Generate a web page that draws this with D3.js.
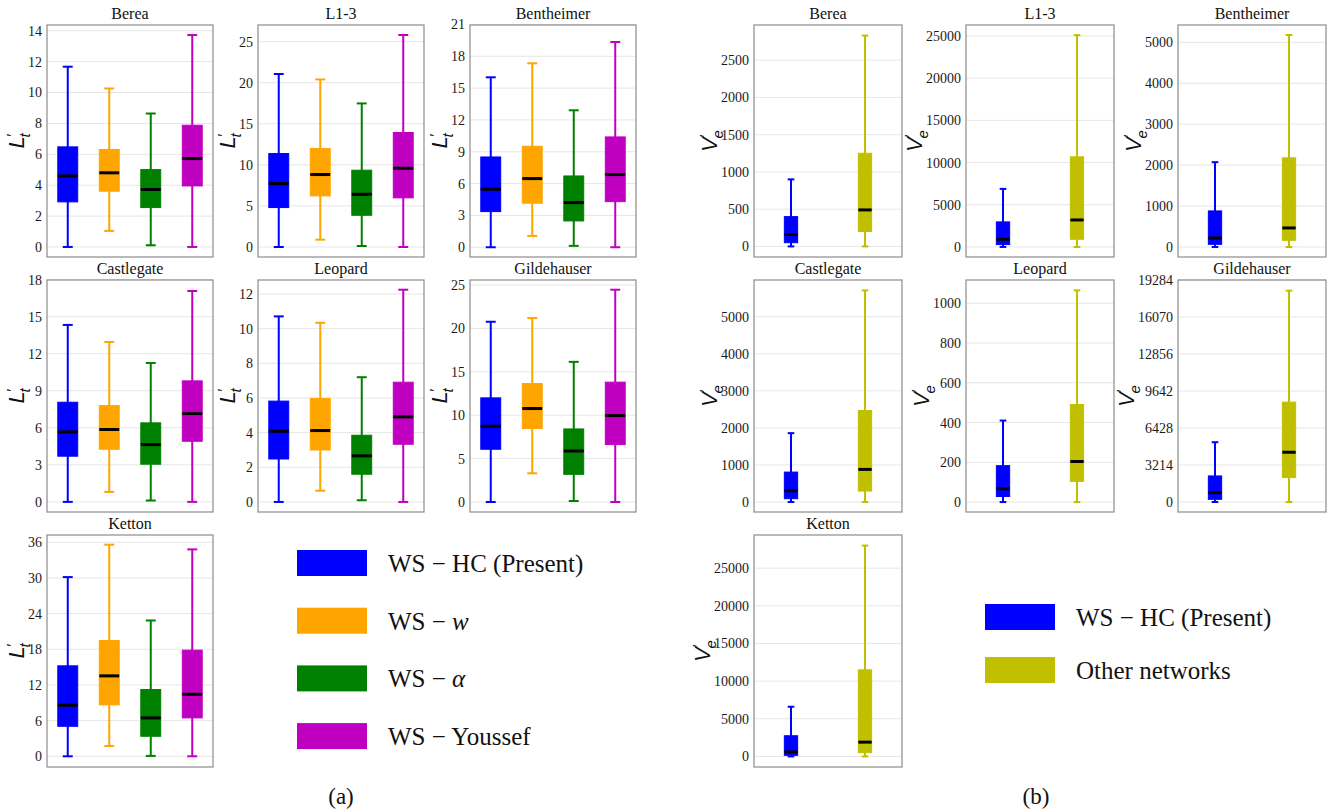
<!DOCTYPE html>
<html><head><meta charset="utf-8">
<script src="https://cdn.jsdelivr.net/npm/d3@7"></script>
<style>body{margin:0;background:#fff;} svg{display:block}</style>
</head><body><svg id="c" width="1330" height="810"></svg>
<script>
// ---------- DATA ----------
// box stats per series: [lowWhisker, Q1, median, Q3, highWhisker]
const seriesA = ["WS − HC (Present)", "WS − w", "WS − α", "WS − Youssef"];
const seriesB = ["WS − HC (Present)", "Other networks"];
const colorsA = ["#0000ff", "#ffa500", "#008000", "#c000c0"];
const colorsB = ["#0000ff", "#c0c000"];

const samples = ["Berea", "L1-3", "Bentheimer", "Castlegate", "Leopard", "Gildehauser", "Ketton"];

// Panel (a): L't
const aBerea = [[0, 2.92, 4.60, 6.48, 11.67], [1.04, 3.61, 4.80, 6.31, 10.26], [0.11, 2.55, 3.72, 5.01, 8.64], [0, 3.95, 5.72, 7.88, 13.72]];
const aL13 = [[0, 4.80, 7.72, 11.38, 21.06], [0.89, 6.22, 8.82, 12.0, 20.4], [0.12, 3.86, 6.42, 9.35, 17.48], [0, 5.98, 9.59, 13.94, 25.81]];
const aBentheimer = [[0, 3.36, 5.47, 8.51, 16.02], [1.07, 4.15, 6.47, 9.52, 17.34], [0.13, 2.48, 4.21, 6.72, 12.91], [0, 4.30, 6.85, 10.40, 19.35]];
const aCastlegate = [[0, 3.70, 5.67, 8.07, 14.33], [0.81, 4.26, 5.86, 7.80, 12.95], [0.11, 3.05, 4.64, 6.40, 11.25], [0, 4.91, 7.15, 9.80, 17.08]];
const aLeopard = [[0, 2.48, 4.08, 5.82, 10.71], [0.65, 3.0, 4.12, 5.97, 10.34], [0.10, 1.60, 2.66, 3.85, 7.20], [0, 3.33, 4.91, 6.91, 12.25]];
const aGildehauser = [[0, 6.08, 8.73, 12.0, 20.77], [3.31, 8.46, 10.77, 13.65, 21.19], [0.12, 3.19, 5.88, 8.42, 16.15], [0, 6.62, 9.96, 13.81, 24.46]];
const aKetton = [[0, 5.05, 8.59, 15.22, 30.15], [1.74, 8.65, 13.53, 19.48, 35.6], [0.06, 3.37, 6.46, 11.23, 22.85], [0, 6.46, 10.44, 17.86, 34.81]];

const ticksA_Berea = [0, 2, 4, 6, 8, 10, 12, 14];
const ticksA_L13 = [0, 5, 10, 15, 20, 25];
const ticksA_Bentheimer = [0, 3, 6, 9, 12, 15, 18, 21];
const ticksA_Castlegate = [0, 3, 6, 9, 12, 15, 18];
const ticksA_Leopard = [0, 2, 4, 6, 8, 10, 12];
const ticksA_Gildehauser = [0, 5, 10, 15, 20, 25];
const ticksA_Ketton = [0, 6, 12, 18, 24, 30, 36];

const rangeA_Berea = [-0.65, 14.37];
const rangeA_L13 = [-1.22, 27.03];
const rangeA_Bentheimer = [-0.92, 20.95];
const rangeA_Castlegate = [-0.82, 17.97];
const rangeA_Leopard = [-0.58, 12.81];
const rangeA_Gildehauser = [-1.15, 25.58];
const rangeA_Ketton = [-1.80, 37.23];

// Panel (b): V'e
const bBerea = [[0, 50, 160, 400, 900], [0, 200, 490, 1250, 2830]];
const bL13 = [[0, 280, 910, 2970, 6880], [0, 910, 3200, 10680, 25100]];
const bBentheimer = [[0, 65, 220, 881, 2072], [0, 163, 465, 2178, 5180]];
const bCastlegate = [[0, 90, 305, 808, 1858], [0, 296, 880, 2469, 5709]];
const bLeopard = [[0, 28, 67, 183, 410], [0, 104, 204, 491, 1065]];
const bGildehauser = [[0, 232, 812, 2263, 5192], [0, 2118, 4322, 8673, 18362]];
const bKetton = [[0, 150, 600, 2750, 6600], [0, 500, 1900, 11500, 28000]];

const ticksB_Berea = [0, 500, 1000, 1500, 2000, 2500];
const ticksB_L13 = [0, 5000, 10000, 15000, 20000, 25000];
const ticksB_Bentheimer = [0, 1000, 2000, 3000, 4000, 5000];
const ticksB_Castlegate = [0, 1000, 2000, 3000, 4000, 5000];
const ticksB_Leopard = [0, 200, 400, 600, 800, 1000];
const ticksB_Gildehauser = [0, 3214, 6428, 9642, 12856, 16070, 19284];
const ticksB_Ketton = [0, 5000, 10000, 15000, 20000, 25000];

const rangeB_Berea = [-142, 2972];
const rangeB_L13 = [-1190, 26300];
const rangeB_Bentheimer = [-245, 5424];
const rangeB_Castlegate = [-269, 5990];
const rangeB_Leopard = [-50, 1117];
const rangeB_Gildehauser = [-870, 19284];
const rangeB_Ketton = [-1400, 29400];

const panelAStats = [aBerea, aL13, aBentheimer, aCastlegate, aLeopard, aGildehauser, aKetton];
const panelATicks = [ticksA_Berea, ticksA_L13, ticksA_Bentheimer, ticksA_Castlegate, ticksA_Leopard, ticksA_Gildehauser, ticksA_Ketton];
const panelARanges = [rangeA_Berea, rangeA_L13, rangeA_Bentheimer, rangeA_Castlegate, rangeA_Leopard, rangeA_Gildehauser, rangeA_Ketton];
const panelBStats = [bBerea, bL13, bBentheimer, bCastlegate, bLeopard, bGildehauser, bKetton];
const panelBTicks = [ticksB_Berea, ticksB_L13, ticksB_Bentheimer, ticksB_Castlegate, ticksB_Leopard, ticksB_Gildehauser, ticksB_Ketton];
const panelBRanges = [rangeB_Berea, rangeB_L13, rangeB_Bentheimer, rangeB_Castlegate, rangeB_Leopard, rangeB_Gildehauser, rangeB_Ketton];

// ---------- DRAWING ----------
const svg = d3.select("#c");
const SERIF = "'Liberation Serif', 'Times New Roman', serif";
const rowTops = [25, 280, 535];
const plotH = 232;

function yLabel(g, x, cy, main, sub) {
  const t = g.append("text")
    .attr("transform", `translate(${x},${cy}) rotate(-90)`)
    .attr("text-anchor", "middle")
    .attr("font-family", "'Liberation Sans', Arial, sans-serif")
    .attr("fill", "#111");
  t.append("tspan").attr("font-size", 22).attr("font-style", "italic").text(main);
  t.append("tspan").attr("font-size", 15).attr("dy", -7).text("′");
  t.append("tspan").attr("font-size", 15).attr("font-style", "italic").attr("dx", -4).attr("dy", 13).text(sub);
}

function drawPlot(left, top, w, h, title, stats, colors, ticks, range, boxFrac, labelMain, labelSub) {
  const g = svg.append("g");
  const x = d3.scaleBand().domain(stats.map((d, i) => i)).range([left, left + w]);
  const y = d3.scaleLinear().domain(range).range([top + h, top]);
  const boxW = x.bandwidth() * boxFrac;
  const capW = boxW / 2;

  // grid
  g.selectAll("line.grid").data(ticks).enter().append("line")
    .attr("x1", left).attr("x2", left + w)
    .attr("y1", d => y(d)).attr("y2", d => y(d))
    .attr("stroke", "#e6e6e6").attr("stroke-width", 1);

  // axis
  const ax = g.append("g").attr("transform", `translate(${left},0)`)
    .call(d3.axisLeft(y).tickValues(ticks).tickSize(0).tickPadding(5).tickFormat(d3.format("d")));
  ax.select(".domain").remove();
  ax.selectAll("text").attr("font-family", SERIF).attr("font-size", 14).attr("fill", "#1a1a1a");
  let maxW = 0;
  ax.selectAll("text").each(function () { maxW = Math.max(maxW, this.getComputedTextLength()); });

  // boxes
  stats.forEach((s, i) => {
    const cx = x(i) + x.bandwidth() / 2;
    const c = colors[i];
    const bg = g.append("g");
    bg.append("line").attr("x1", cx).attr("x2", cx).attr("y1", y(s[0])).attr("y2", y(s[4]))
      .attr("stroke", c).attr("stroke-width", 2);
    [s[0], s[4]].forEach(v => {
      bg.append("line").attr("x1", cx - capW / 2).attr("x2", cx + capW / 2)
        .attr("y1", y(v)).attr("y2", y(v)).attr("stroke", c).attr("stroke-width", 2);
    });
    bg.append("rect").attr("x", cx - boxW / 2).attr("width", boxW)
      .attr("y", y(s[3])).attr("height", y(s[1]) - y(s[3]))
      .attr("fill", c).attr("stroke", c).attr("stroke-width", 1);
    bg.append("line").attr("x1", cx - boxW / 2).attr("x2", cx + boxW / 2)
      .attr("y1", y(s[2])).attr("y2", y(s[2])).attr("stroke", "#000").attr("stroke-width", 3);
  });

  // frame
  g.append("rect").attr("x", left).attr("y", top).attr("width", w).attr("height", h)
    .attr("fill", "none").attr("stroke", "#8c8c8c").attr("stroke-width", 1.2);

  // title
  g.append("text").attr("x", left + w / 2).attr("y", top - 6).attr("text-anchor", "middle")
    .attr("font-family", SERIF).attr("font-size", 16).attr("fill", "#111").text(title);

  yLabel(g, left - 5 - maxW - 4, top + h / 2, labelMain, labelSub);
}

// Panel (a)
const colsA = [47, 258, 470];
const wA = 166;
samples.forEach((name, k) => {
  const r = Math.floor(k / 3), c = k % 3;
  drawPlot(colsA[c], rowTops[r], wA, plotH, name, panelAStats[k], colorsA,
    panelATicks[k], panelARanges[k], 0.48, "L", "t");
});

// Panel (b)
const colsB = [754, 966, 1178];
const wB = 148;
samples.forEach((name, k) => {
  const r = Math.floor(k / 3), c = k % 3;
  drawPlot(colsB[c], rowTops[r], wB, plotH, name, panelBStats[k], colorsB,
    panelBTicks[k], panelBRanges[k], 0.18, "V", "e");
});

// Legends
function legend(x, y0, gap, names, colors) {
  names.forEach((n, i) => {
    const yy = y0 + i * gap;
    svg.append("rect").attr("x", x).attr("y", yy - 13).attr("width", 70).attr("height", 26).attr("fill", colors[i]);
    const t = svg.append("text").attr("x", x + 91).attr("y", yy + 9)
      .attr("font-family", SERIF).attr("font-size", 25).attr("fill", "#111");
    const parts = n.split("− ");
    if (parts.length === 2 && (parts[1] === "w" || parts[1] === "α")) {
      t.append("tspan").text("WS − ");
      t.append("tspan").attr("font-style", "italic").text(parts[1]);
    } else {
      t.text(n);
    }
  });
}
legend(297, 563, 57.7, seriesA, colorsA);
legend(985, 617, 53, seriesB, colorsB);

// Panel labels
svg.append("text").attr("x", 341).attr("y", 804).attr("text-anchor", "middle")
  .attr("font-family", SERIF).attr("font-size", 23).attr("fill", "#111").text("(a)");
svg.append("text").attr("x", 1036).attr("y", 804).attr("text-anchor", "middle")
  .attr("font-family", SERIF).attr("font-size", 23).attr("fill", "#111").text("(b)");
</script></body></html>
